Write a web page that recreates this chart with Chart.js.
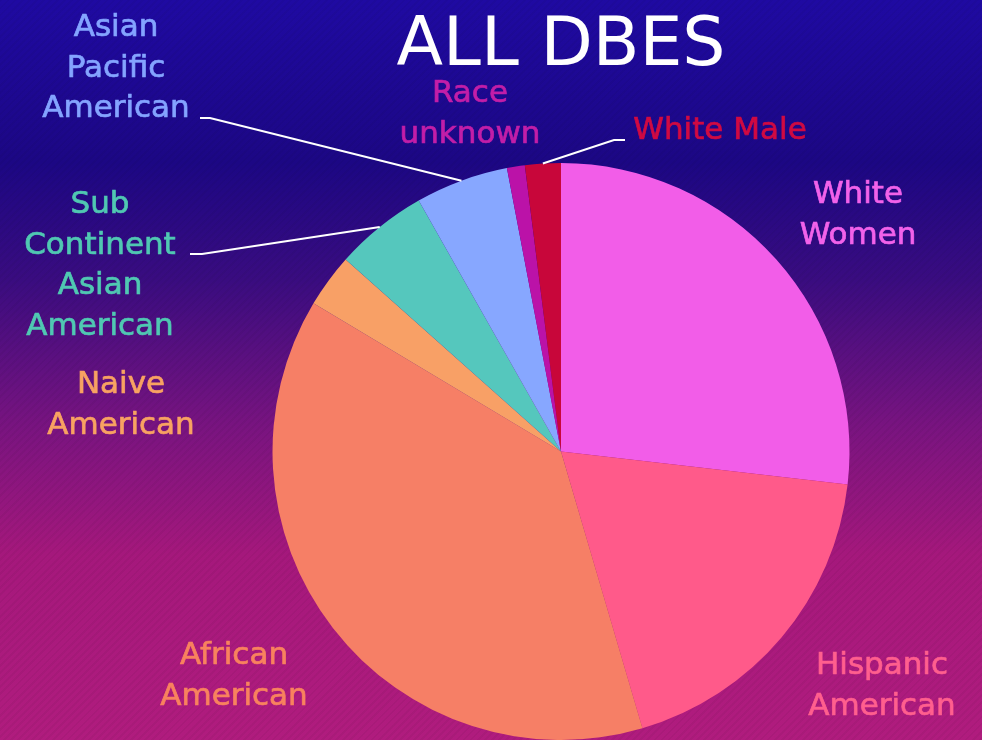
<!DOCTYPE html>
<html>
<head>
<meta charset="utf-8">
<script src="https://cdn.jsdelivr.net/npm/chart.js@4.4.0/dist/chart.umd.min.js"></script>
<style>
  html, body { margin: 0; padding: 0; }
  body {
    width: 982px; height: 740px; overflow: hidden;
    background:
      repeating-linear-gradient(135deg, rgba(0,0,0,0.04) 0 2px, rgba(0,0,0,0) 2px 5px),
      linear-gradient(180deg, #1f0aa2 0%, #1c0784 22%, #3a0c80 38%, #7a1480 58%, #a5187c 75%, #b01c7e 100%);
  }
  #wrap { position: relative; width: 982px; height: 740px; }
</style>
</head>
<body>
<div id="wrap"><canvas id="pie" width="982" height="740"></canvas></div>
<script>
// datos del gráfico
const categories = ['White Women', 'Hispanic American', 'African American', 'Naive American',
  'Sub Continent Asian American', 'Asian Pacific American', 'Race unknown', 'White Male'];
const shares = [26.8, 18.6, 38.1, 3.0, 5.2, 5.2, 1.0, 2.0];
const sliceColors = ['#f25de8', '#ff5a8a', '#f67f66', '#f8a066', '#55c7bd', '#87a7ff', '#bb12a8', '#c8063a'];
const labelColors = ['#f262ea', '#ff5f8e', '#f8825e', '#f8a262', '#50c8b2', '#84a4ff', '#c21ea8', '#d00a42'];

// posiciones de etiquetas (centro de cada línea de texto)
const labelSpots = [
  { lines: ['White', 'Women'], x: 858, y: 195 },
  { lines: ['Hispanic', 'American'], x: 882, y: 666 },
  { lines: ['African', 'American'], x: 234, y: 656 },
  { lines: ['Naive', 'American'], x: 121, y: 385 },
  { lines: ['Sub', 'Continent', 'Asian', 'American'], x: 100, y: 205 },
  { lines: ['Asian', 'Pacific', 'American'], x: 116, y: 28 },
  { lines: ['Race', 'unknown'], x: 470, y: 94 },
  { lines: ['White Male'], x: 720, y: 131 }
];
// líneas guía: índice de la porción y tramo horizontal junto al texto
const leaders = [
  { idx: 5, x0: 200, x1: 210, y: 118 },
  { idx: 4, x0: 190, x1: 202, y: 254 },
  { idx: 7, x0: 625, x1: 614, y: 140 }
];

const labelPlugin = {
  id: 'sliceLabels',
  afterDatasetsDraw(chart) {
    const ctx = chart.ctx;
    const arcs = chart.getDatasetMeta(0).data;
    ctx.save();
    // guías
    ctx.strokeStyle = '#ffffff';
    ctx.lineWidth = 2;
    leaders.forEach(l => {
      const a = arcs[l.idx];
      const mid = (a.startAngle + a.endAngle) / 2;
      const ex = a.x + Math.cos(mid) * a.outerRadius;
      const ey = a.y + Math.sin(mid) * a.outerRadius;
      ctx.beginPath();
      ctx.moveTo(l.x0, l.y);
      ctx.lineTo(l.x1, l.y);
      ctx.lineTo(ex, ey);
      ctx.stroke();
    });
    // textos
    ctx.font = '31px "DejaVu Sans"';
    ctx.textAlign = 'center';
    ctx.textBaseline = 'middle';
    ctx.lineWidth = 0.7;
    labelSpots.forEach((s, i) => {
      ctx.fillStyle = labelColors[i];
      ctx.strokeStyle = labelColors[i];
      s.lines.forEach((t, k) => {
        ctx.fillText(t, s.x, s.y + k * 40.7);
        ctx.strokeText(t, s.x, s.y + k * 40.7);
      });
    });
    ctx.restore();
  }
};

new Chart(document.getElementById('pie'), {
  type: 'pie',
  data: {
    labels: categories,
    datasets: [{
      data: shares,
      backgroundColor: sliceColors,
      borderWidth: 0
    }]
  },
  options: {
    responsive: false,
    animation: false,
    layout: { padding: { left: 272, right: 132, top: 0, bottom: 0 } },
    plugins: {
      legend: { display: false },
      tooltip: { enabled: false },
      title: {
        display: true,
        text: 'ALL DBES',
        fullSize: false,
        color: '#ffffff',
        font: { family: 'DejaVu Sans', size: 68, weight: 'normal', lineHeight: 1 },
        padding: { top: 13, bottom: 82 }
      }
    }
  },
  plugins: [labelPlugin]
});
</script>
</body>
</html>
